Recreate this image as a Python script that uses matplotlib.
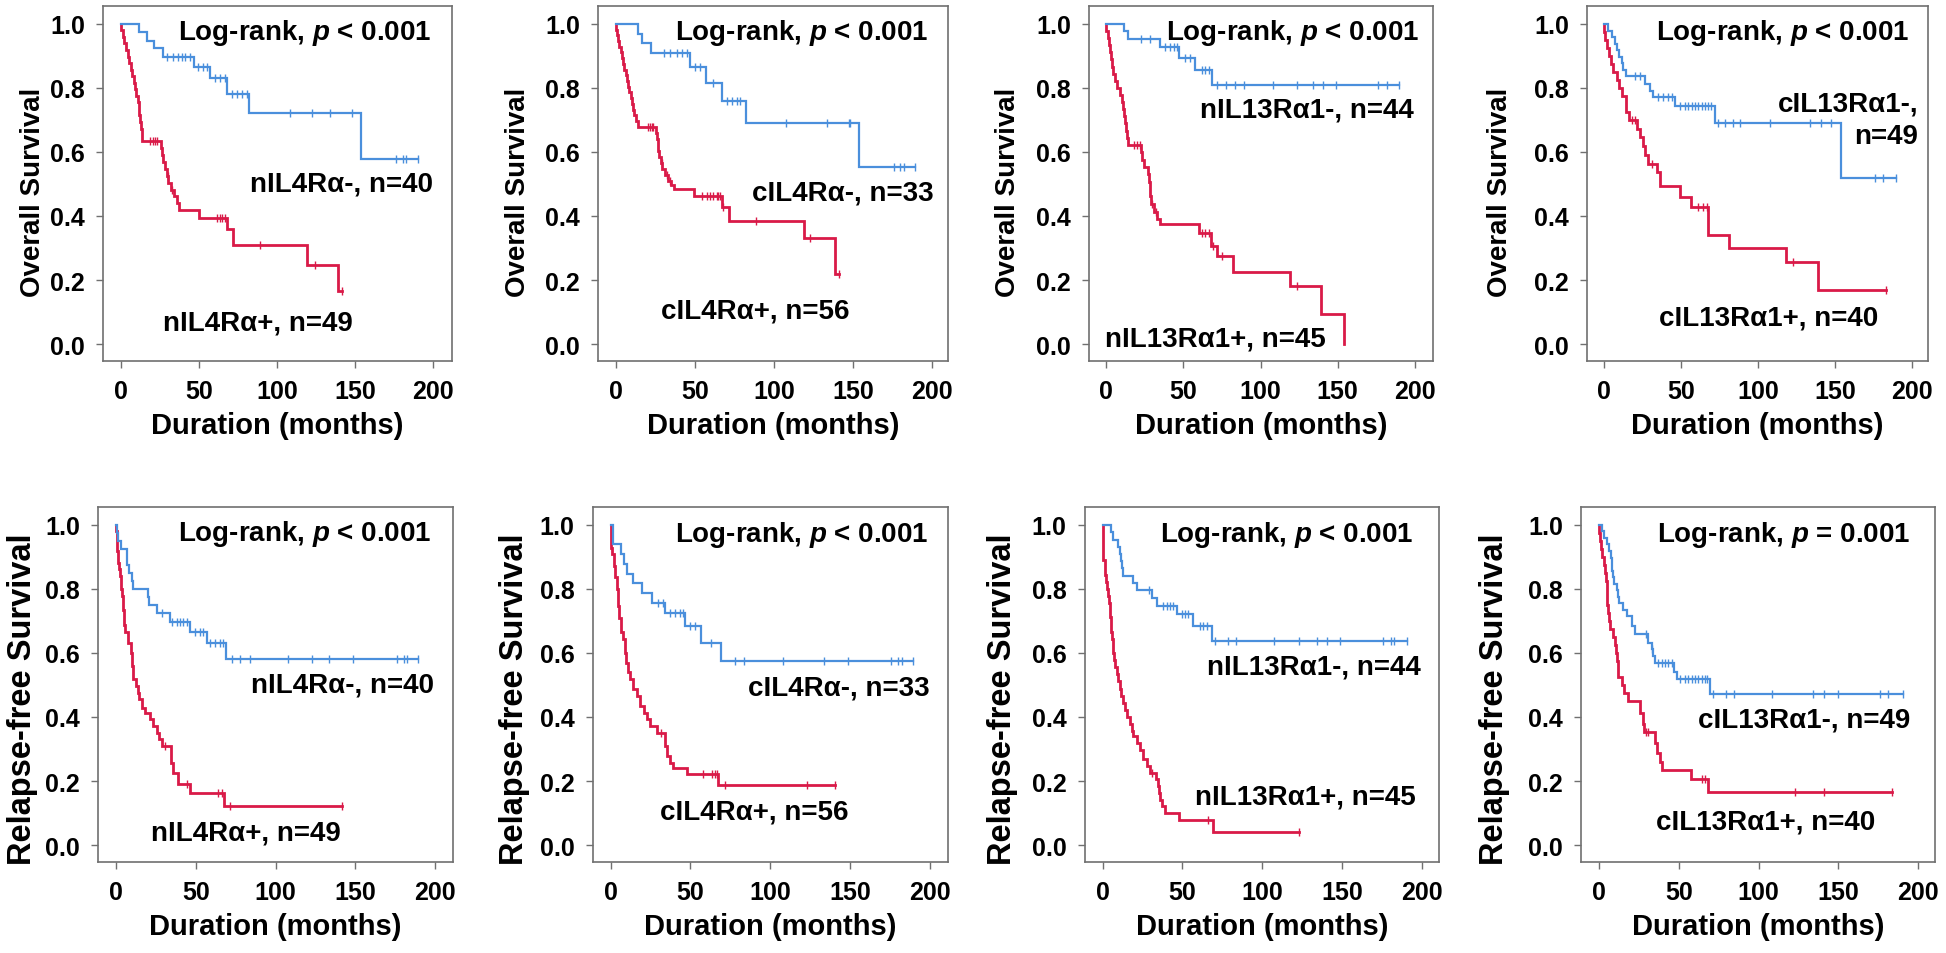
import numpy as np
import matplotlib
matplotlib.use("Agg")
import matplotlib.pyplot as plt

plt.rcParams['font.family'] = ['Liberation Sans', 'DejaVu Sans']
plt.rcParams['font.weight'] = 'bold'
plt.rcParams['mathtext.fontset'] = 'custom'
plt.rcParams['mathtext.it'] = 'Liberation Sans:italic:bold'
plt.rcParams['mathtext.rm'] = 'Liberation Sans:bold'

BLUE = '#4A8FDC'
RED = '#D91A48'

# ---------------- data (months, survival) ----------------
# Panel 1: Overall survival, nIL4Ra
p1_neg_t = [11.9, 16.6, 21.5, 26.9, 47.1, 57.1, 67.8, 82.1, 154.2]
p1_neg_s = [0.974, 0.948, 0.924, 0.898, 0.865, 0.830, 0.781, 0.721, 0.578]
p1_neg_c = [29.4, 33.7, 36.9, 39.0, 41.2, 44.3, 49.7, 52.9, 55.0, 60.3, 63.5, 66.7,
            71.0, 74.2, 77.4, 80.6, 108.3, 122.6, 133.9, 148.2, 176.1, 180.8, 182.5, 190.4]
p1_pos_t = [0.5, 1.3, 2.1, 3.2, 4.5, 5.3, 6.4, 7.2, 8.5, 9.2, 10.0, 10.9, 11.5, 12.0, 12.5,
            13.0, 13.5, 13.9, 25.6, 26.7, 27.3, 28.4, 29.4, 30.5, 32.0, 34.1, 35.8, 37.3,
            50.1, 68.0, 72.0, 119.0, 139.4]
p1_pos_s = [0.980, 0.959, 0.939, 0.918, 0.898, 0.878, 0.857, 0.837, 0.816, 0.796, 0.776,
            0.755, 0.735, 0.714, 0.694, 0.673, 0.653, 0.633, 0.612, 0.591, 0.569, 0.547,
            0.526, 0.504, 0.482, 0.461, 0.440, 0.420, 0.393, 0.360, 0.309, 0.248, 0.166]
p1_pos_c = [18.8, 20.9, 22.0, 23.0, 30.0, 33.0, 61.4, 63.5, 65.0, 66.7, 89.1, 124.3, 142.0]

# Panel 2: Overall survival, cIL4Ra
p2_neg_t = [13.7, 16.7, 22.0, 46.9, 56.8, 67.4, 82.4, 153.5]
p2_neg_s = [0.969, 0.940, 0.909, 0.865, 0.816, 0.758, 0.691, 0.552]
p2_neg_c = [30.4, 34.2, 38.4, 41.6, 44.8, 50.1, 53.2, 61.7, 70.1, 73.3, 76.5, 78.6,
            107.7, 133.5, 147.2, 148.3, 175.7, 179.9, 182.0, 189.4]
p2_pos_t = [0.3, 0.8, 1.5, 2.1, 3.0, 3.6, 4.5, 5.3, 6.2, 6.8, 7.6, 8.4, 9.5, 10.3, 11.0,
            11.6, 12.5, 13.7, 25.1, 26.0, 26.4, 27.2, 28.5, 29.4, 31.0, 33.2, 34.8, 37.0,
            49.6, 67.4, 71.6, 118.7, 138.8]
p2_pos_s = [0.982, 0.964, 0.946, 0.929, 0.911, 0.893, 0.875, 0.857, 0.839, 0.821, 0.804,
            0.786, 0.768, 0.750, 0.732, 0.714, 0.696, 0.679, 0.660, 0.641, 0.603, 0.584,
            0.566, 0.547, 0.528, 0.509, 0.497, 0.484, 0.464, 0.427, 0.385, 0.330, 0.219]
p2_pos_c = [20.5, 21.5, 22.6, 23.7, 28.9, 32.1, 34.2, 54.3, 57.4, 59.6, 61.7, 63.8, 64.8,
            65.9, 68.0, 88.7, 122.9, 140.9]

# Panel 3: Overall survival, nIL13Ra1
p3_neg_t = [11.9, 14.0, 35.1, 47.4, 57.3, 68.5]
p3_neg_s = [0.977, 0.953, 0.927, 0.893, 0.857, 0.809]
p3_neg_c = [22.6, 28.7, 38.4, 41.6, 43.8, 45.9, 51.3, 54.5, 62.1, 64.2, 66.4, 71.8, 77.8,
            83.6, 89.0, 108.4, 123.5, 134.3, 140.7, 148.7, 176.3, 181.7, 189.9]
p3_pos_t = [0.3, 1.3, 1.9, 2.4, 3.4, 4.0, 4.5, 6.0, 7.1, 9.3, 10.3, 10.9, 11.4, 12.1, 13.1,
            13.6, 14.0, 22.8, 23.5, 24.8, 27.2, 27.6, 28.2, 28.8, 29.3, 30.8, 32.9, 35.1,
            59.9, 68.1, 71.8, 82.5, 119.2, 139.0, 154.1]
p3_pos_s = [0.978, 0.956, 0.933, 0.911, 0.889, 0.867, 0.844, 0.822, 0.800, 0.778, 0.756,
            0.733, 0.711, 0.689, 0.667, 0.644, 0.622, 0.599, 0.576, 0.553, 0.530, 0.507,
            0.484, 0.461, 0.438, 0.414, 0.391, 0.375, 0.346, 0.307, 0.274, 0.226, 0.182,
            0.093, 0.0]
p3_pos_c = [17.9, 20.0, 22.2, 29.8, 32.5, 62.1, 64.2, 66.4, 69.2, 75.4, 123.5]

# Panel 4: Overall survival, cIL13Ra1
p4_neg_t = [2.8, 5.0, 7.1, 8.4, 9.9, 11.5, 12.5, 14.0, 26.6, 29.8, 32.0, 46.0, 72.0, 153.7]
p4_neg_s = [0.979, 0.958, 0.938, 0.918, 0.897, 0.877, 0.857, 0.836, 0.813, 0.792, 0.771,
            0.743, 0.690, 0.519]
p4_neg_c = [20.1, 23.4, 35.2, 38.5, 41.7, 43.9, 49.3, 52.5, 54.7, 56.9, 59.0, 61.2, 63.4,
            65.5, 67.7, 69.8, 74.2, 78.5, 83.9, 88.2, 107.7, 133.6, 141.2, 147.7, 175.8,
            181.2, 189.8]
p4_pos_t = [0.3, 0.6, 1.7, 3.2, 4.5, 6.1, 8.2, 9.7, 11.5, 14.1, 16.2, 21.2, 23.4, 25.5,
            26.6, 28.8, 34.2, 36.3, 49.3, 56.4, 67.7, 81.3, 118.5, 139.0]
p4_pos_s = [0.975, 0.950, 0.925, 0.900, 0.875, 0.850, 0.825, 0.800, 0.775, 0.725, 0.700,
            0.672, 0.646, 0.620, 0.590, 0.563, 0.536, 0.495, 0.458, 0.427, 0.341, 0.301,
            0.255, 0.170]
p4_pos_c = [17.9, 20.1, 30.9, 61.2, 64.4, 66.6, 122.8, 183.4]

# Panel 5: Relapse-free survival, nIL4Ra
p5_neg_t = [0.5, 1.5, 2.9, 6.7, 8.4, 9.8, 10.9, 19.9, 20.9, 25.5, 33.9, 46.4, 56.8, 69.0]
p5_neg_s = [0.975, 0.950, 0.925, 0.875, 0.850, 0.825, 0.800, 0.775, 0.750, 0.725, 0.698,
            0.667, 0.630, 0.582]
p5_neg_c = [28.6, 34.9, 38.0, 40.1, 42.2, 44.3, 49.5, 52.7, 54.8, 58.9, 62.1, 65.2, 67.3,
            72.5, 77.7, 84.0, 108.0, 122.7, 133.8, 148.8, 176.0, 180.6, 182.2, 189.6]
p5_pos_t = [0.2, 0.4, 0.7, 0.9, 1.2, 1.5, 1.9, 2.4, 2.9, 3.3, 3.8, 4.2, 4.6, 5.0, 5.3, 5.6,
            7.7, 9.2, 10.2, 10.9, 12.5, 13.6, 14.6, 16.1, 18.2, 21.3, 23.0, 25.5, 27.2,
            28.6, 34.3, 35.9, 39.1, 46.4, 67.7]
p5_pos_s = [0.980, 0.959, 0.939, 0.918, 0.898, 0.882, 0.861, 0.841, 0.820, 0.799, 0.778,
            0.757, 0.735, 0.710, 0.687, 0.664, 0.632, 0.601, 0.559, 0.518, 0.497, 0.476,
            0.455, 0.429, 0.414, 0.393, 0.372, 0.351, 0.330, 0.309, 0.257, 0.226, 0.190,
            0.164, 0.122]
p5_pos_c = [30.5, 44.7, 64.2, 66.2, 71.5, 141.5]

# Panel 6: Relapse-free survival, cIL4Ra
p6_neg_t = [1.7, 6.5, 8.6, 10.0, 13.8, 19.8, 25.7, 34.1, 46.6, 56.6, 69.1]
p6_neg_s = [0.940, 0.909, 0.879, 0.848, 0.818, 0.788, 0.757, 0.726, 0.684, 0.630, 0.575]
p6_neg_c = [29.9, 33.0, 37.2, 40.3, 43.4, 45.5, 49.7, 52.8, 62.8, 77.9, 83.5, 107.7,
            133.6, 148.9, 175.6, 180.2, 182.3, 189.6]
p6_pos_t = [0.2, 0.5, 1.0, 2.3, 3.0, 3.8, 4.8, 5.5, 6.3, 7.9, 9.0, 9.8, 10.6, 12.1, 14.2,
            16.3, 18.4, 20.9, 22.5, 24.6, 28.8, 34.0, 35.1, 37.2, 39.2, 47.6, 67.4]
p6_pos_s = [0.964, 0.929, 0.908, 0.872, 0.836, 0.799, 0.747, 0.710, 0.664, 0.643, 0.601,
            0.570, 0.539, 0.518, 0.486, 0.466, 0.434, 0.414, 0.393, 0.372, 0.351, 0.309,
            0.278, 0.257, 0.242, 0.221, 0.186]
p6_pos_c = [31.5, 58.0, 63.3, 65.3, 66.4, 71.6, 122.8, 140.5]

# Panel 7: Relapse-free survival, nIL13Ra1
p7_neg_t = [5.0, 6.3, 9.8, 10.9, 11.5, 12.3, 12.9, 19.2, 21.3, 30.7, 34.2, 46.3, 56.8, 68.3]
p7_neg_s = [0.977, 0.954, 0.932, 0.909, 0.886, 0.864, 0.841, 0.818, 0.796, 0.773, 0.747,
            0.721, 0.684, 0.637]
p7_neg_c = [29.0, 38.0, 40.1, 42.2, 44.3, 49.5, 51.6, 53.7, 61.0, 63.0, 65.1, 70.4, 78.7,
            83.5, 107.3, 123.2, 134.0, 140.7, 148.6, 175.8, 180.4, 182.5, 190.4]
p7_pos_t = [0.1, 0.2, 0.3, 0.4, 0.5, 1.2, 1.7, 2.1, 3.0, 3.6, 4.2, 4.5, 4.8, 5.2, 5.5, 5.9,
            6.3, 6.7, 7.3, 8.0, 8.8, 9.8, 10.9, 11.7, 12.5, 13.8, 15.0, 17.1, 18.2, 19.2,
            21.3, 23.4, 25.5, 28.0, 29.6, 33.4, 34.5, 35.5, 36.2, 37.0, 39.0, 48.0, 68.9]
p7_pos_s = [0.978, 0.956, 0.933, 0.911, 0.889, 0.867, 0.844, 0.822, 0.800, 0.778, 0.756,
            0.733, 0.711, 0.689, 0.667, 0.644, 0.622, 0.600, 0.578, 0.556, 0.533, 0.511,
            0.489, 0.467, 0.444, 0.422, 0.400, 0.378, 0.356, 0.341, 0.319, 0.297, 0.268,
            0.247, 0.226, 0.205, 0.183, 0.162, 0.142, 0.122, 0.101, 0.077, 0.042]
p7_pos_c = [31.0, 66.2, 123.2]

# Panel 8: Relapse-free survival, cIL13Ra1
p8_neg_t = [1.7, 3.3, 4.8, 6.2, 7.5, 8.1, 8.4, 8.7, 9.5, 11.1, 12.0, 12.5, 15.3, 17.3,
            20.9, 22.6, 30.9, 33.0, 34.0, 35.1, 47.2, 48.7, 69.6]
p8_neg_s = [0.980, 0.959, 0.939, 0.918, 0.898, 0.878, 0.857, 0.837, 0.816, 0.796, 0.776,
            0.755, 0.735, 0.714, 0.684, 0.658, 0.632, 0.611, 0.590, 0.570, 0.539, 0.518,
            0.471]
p8_neg_c = [29.5, 33.5, 37.2, 39.3, 41.4, 43.5, 45.6, 50.8, 53.9, 56.0, 58.1, 60.2, 62.3,
            64.4, 66.5, 67.5, 71.7, 79.4, 84.8, 108.7, 134.4, 141.3, 149.6, 176.2, 181.4,
            190.4]
p8_pos_t = [0.3, 0.6, 1.2, 1.7, 3.3, 4.0, 4.4, 4.8, 5.0, 5.2, 5.4, 6.2, 6.9, 9.0, 10.0,
            10.4, 11.0, 11.6, 12.1, 14.2, 15.9, 18.4, 25.7, 27.8, 28.4, 35.1, 36.2, 38.5,
            39.3, 57.7, 68.5]
p8_pos_s = [0.975, 0.950, 0.925, 0.900, 0.875, 0.850, 0.825, 0.800, 0.775, 0.750, 0.725,
            0.700, 0.675, 0.650, 0.625, 0.600, 0.575, 0.550, 0.525, 0.500, 0.475, 0.450,
            0.414, 0.377, 0.353, 0.320, 0.289, 0.260, 0.234, 0.207, 0.167]
p8_pos_c = [29.5, 30.5, 64.4, 66.5, 122.9, 141.3, 183.9]

neg_labels = ['nIL4Rα-, n=40', 'cIL4Rα-, n=33', 'nIL13Rα1-, n=44', 'cIL13Rα1-,\nn=49',
              'nIL4Rα-, n=40', 'cIL4Rα-, n=33', 'nIL13Rα1-, n=44', 'cIL13Rα1-, n=49']
pos_labels = ['nIL4Rα+, n=49', 'cIL4Rα+, n=56', 'nIL13Rα1+, n=45', 'cIL13Rα1+, n=40',
              'nIL4Rα+, n=49', 'cIL4Rα+, n=56', 'nIL13Rα1+, n=45', 'cIL13Rα1+, n=40']
p_texts = ['< 0.001'] * 7 + ['= 0.001']
y_titles = ['Overall Survival'] * 4 + ['Relapse-free Survival'] * 4
x_title = 'Duration (months)'
x_ticks = [0, 50, 100, 150, 200]
y_ticks = [0.0, 0.2, 0.4, 0.6, 0.8, 1.0]

curves = [
    (p1_neg_t, p1_neg_s, p1_neg_c, p1_pos_t, p1_pos_s, p1_pos_c),
    (p2_neg_t, p2_neg_s, p2_neg_c, p2_pos_t, p2_pos_s, p2_pos_c),
    (p3_neg_t, p3_neg_s, p3_neg_c, p3_pos_t, p3_pos_s, p3_pos_c),
    (p4_neg_t, p4_neg_s, p4_neg_c, p4_pos_t, p4_pos_s, p4_pos_c),
    (p5_neg_t, p5_neg_s, p5_neg_c, p5_pos_t, p5_pos_s, p5_pos_c),
    (p6_neg_t, p6_neg_s, p6_neg_c, p6_pos_t, p6_pos_s, p6_pos_c),
    (p7_neg_t, p7_neg_s, p7_neg_c, p7_pos_t, p7_pos_s, p7_pos_c),
    (p8_neg_t, p8_neg_s, p8_neg_c, p8_pos_t, p8_pos_s, p8_pos_c),
]

# ---------------- layout (pixels) ----------------
W, H = 1946, 954
# left, right spine px; px of x=0 and x=200
geom = [
    (103, 452, 120.7, 433.0), (598, 948, 616.0, 932.0),
    (1089, 1433, 1106.0, 1415.0), (1587, 1928, 1604.0, 1912.0),
    (98, 453, 116.0, 435.0), (592.6, 947.5, 610.6, 930.0),
    (1084.5, 1439, 1102.6, 1422.0), (1581, 1935, 1599.0, 1918.0),
]
row_top = [7, 508]
ax_h = 355
# label placements (data coords)
title_pos = [(117.9, 0.974), (117.6, 0.974), (120.5, 0.974), (115.7, 0.974),
             (118.5, 0.976), (119.6, 0.971), (115.0, 0.971), (115.6, 0.971)]
neg_pos = [(141.6, 0.50), (143.4, 0.474), (130.2, 0.734), (203.9, 0.700),
           (141.9, 0.502), (142.6, 0.492), (132.4, 0.559), (128.3, 0.393)]
pos_pos = [(87.8, 0.068), (88.3, 0.104), (70.7, 0.016), (107.0, 0.083),
           (81.5, 0.039), (90.2, 0.106), (127.1, 0.153), (104.7, 0.075)]
ylab_x = [33, 518, 1008, 1500, 23, 514, 1003, 1495]
ylab_y = [192, 192, 192, 192, 699, 699, 699, 699]
ylab_fs = [20, 20, 20, 20, 23.5, 23.5, 23.5, 23.5]

fig = plt.figure(figsize=(W / 100, H / 100), dpi=100)

def step_xy(t, s, c):
    end = max(c[-1] if len(c) else 0, t[-1])
    x = [0.0] + list(t) + [end]
    y = [1.0] + list(s) + [s[-1]]
    return x, y

def surv_at(t, s, c):
    t = np.asarray(t); s = np.asarray(s)
    idx = np.searchsorted(t, np.asarray(c), side='right') - 1
    return np.where(idx >= 0, s[np.clip(idx, 0, None)], 1.0)

for i in range(8):
    r = i // 4
    L, R, x0, x200 = geom[i]
    ppm = (x200 - x0) / 200.0
    top = row_top[r]
    ax = fig.add_axes([L / W, 1 - (top + ax_h) / H, (R - L) / W, ax_h / H])
    ax.set_xlim(-(x0 - L) / ppm, 200 + (R - x200) / ppm)
    ax.set_ylim(-0.053, 1.056)
    nt, ns, nc, pt, ps, pc = curves[i]
    for (t, s, c, col, lw) in [(pt, ps, pc, RED, 2.0), (nt, ns, nc, BLUE, 1.6)]:
        x, y = step_xy(t, s, c)
        ax.step(x, y, where='post', color=col, lw=lw, solid_joinstyle='miter')
        ax.plot(c, surv_at(t, s, c), ls='none', marker='|', ms=6, mew=1.0, color=col)
    ax.set_xticks(x_ticks)
    ax.set_yticks(y_ticks)
    ax.set_yticklabels(['%.1f' % v for v in y_ticks])
    ax.tick_params(direction='out', length=5, width=1.0, color='#707070',
                   labelsize=18, pad=8)
    for lab in ax.get_xticklabels() + ax.get_yticklabels():
        lab.set_fontweight('bold')
    for sp in ax.spines.values():
        sp.set_color('#707070')
        sp.set_linewidth(1.2)
    ax.set_xlabel(x_title, fontsize=21, fontweight='bold', labelpad=6)
    tx, ty = title_pos[i]
    ax.text(tx, ty, 'Log-rank, $p$ ' + p_texts[i], ha='center', va='center',
            fontsize=20, fontweight='bold')
    bx, by = neg_pos[i]
    if '\n' in neg_labels[i]:
        ax.text(bx, by, neg_labels[i], ha='right', va='center', fontsize=20,
                fontweight='bold', multialignment='right', linespacing=1.3)
    else:
        ax.text(bx, by, neg_labels[i], ha='center', va='center', fontsize=20,
                fontweight='bold')
    rx, ry = pos_pos[i]
    ax.text(rx, ry, pos_labels[i], ha='center', va='center', fontsize=20,
            fontweight='bold')
    fig.text(ylab_x[i] / W, 1 - ylab_y[i] / H, y_titles[i], rotation=90,
             ha='center', va='center', fontsize=ylab_fs[i], fontweight='bold')

fig.savefig('out.png', dpi=100, facecolor='white')
